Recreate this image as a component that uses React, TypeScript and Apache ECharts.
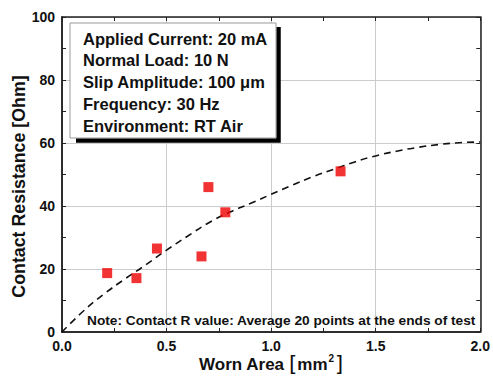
import React, { useEffect, useRef } from "react";
import * as echarts from "echarts";

const curveX = [0, 0.1, 0.2, 0.3, 0.4, 0.5, 0.6, 0.7, 0.8, 0.9, 1.0, 1.1, 1.2, 1.3, 1.4, 1.5, 1.6, 1.7, 1.8, 1.9, 2.0];
const curveY = [0, 6.5, 12, 16.8, 21.3, 26, 30.4, 34.6, 38, 40.8, 43.7, 46.6, 49.3, 51.7, 54, 55.9, 57.4, 58.6, 59.5, 60.1, 60.3];
const pointsX = [0.216, 0.356, 0.454, 0.667, 0.7, 0.781, 1.332];
const pointsY = [18.7, 17.1, 26.5, 24.0, 46.0, 38.0, 51.0];
const xRange = [0, 2];
const yRange = [0, 100];
const xMajor = 0.5;
const xMinor = 0.25;
const yMajor = 20;
const yMinor = 10;
const infoLines = [
  "Applied Current: 20 mA",
  "Normal Load: 10 N",
  "Slip Amplitude: 100 μm",
  "Frequency: 30 Hz",
  "Environment: RT Air",
];
const noteText = "Note: Contact R value: Average 20 points at the ends of test";
const yName = "Contact Resistance [Ohm]";

const FONT = "'Liberation Sans', Arial, sans-serif";

export default function App() {
  const ref = useRef<HTMLDivElement>(null);
  useEffect(() => {
    if (!ref.current) return;
    const chart = echarts.init(ref.current, undefined, { renderer: "svg" });
    const axisLine = { show: true, onZero: false, lineStyle: { color: "#222", width: 1.5 } };
    const tick = { show: true, inside: true, length: 4, lineStyle: { color: "#222", width: 1 } };
    const labelStyle = { fontFamily: FONT, fontWeight: "bold" as const, fontSize: 14, color: "#111" };
    const tickAxis = (position: string, min: number, max: number, interval: number) => ({
      type: "value", position, offset: 0, min, max, interval,
      axisLine, axisTick: tick, axisLabel: { show: false }, splitLine: { show: false },
    });
    chart.setOption({
      animation: false,
      backgroundColor: "#fff",
      grid: { left: 62, right: 11, top: 17, bottom: 48, containLabel: false },
      xAxis: [
        {
          type: "value", position: "bottom", min: xRange[0], max: xRange[1], interval: xMajor,
          axisLine, axisTick: { show: false },
          axisLabel: { ...labelStyle, margin: 7, formatter: (v: number) => v.toFixed(1) },
          splitLine: { show: true, lineStyle: { color: "#cccccc", width: 1 } },
        },
        tickAxis("bottom", xRange[0], xRange[1], xMinor),
        tickAxis("top", xRange[0], xRange[1], xMinor),
      ],
      yAxis: [
        {
          type: "value", position: "left", min: yRange[0], max: yRange[1], interval: yMajor,
          axisLine, axisTick: { show: false },
          axisLabel: { ...labelStyle, margin: 7 },
          splitLine: { show: true, lineStyle: { color: "#cccccc", width: 1 } },
        },
        tickAxis("left", yRange[0], yRange[1], yMinor),
        tickAxis("right", yRange[0], yRange[1], yMinor),
      ],
      series: [
        {
          type: "line",
          xAxisIndex: 0, yAxisIndex: 0,
          data: curveX.map((x, i) => [x, curveY[i]]),
          smooth: true,
          showSymbol: false,
          lineStyle: { color: "#111", width: 1.6, type: [7, 5] },
          z: 3,
        },
        {
          type: "scatter",
          xAxisIndex: 0, yAxisIndex: 0,
          data: pointsX.map((x, i) => [x, pointsY[i]]),
          symbol: "rect",
          symbolSize: 10,
          itemStyle: { color: "#ee0000" },
          z: 4,
        },
      ],
      graphic: {
        elements: [
          {
            type: "polyline", id: "shadow", z: 100,
            shape: { points: [[76, 140.5], [278.5, 140.5], [278.5, 27]] },
            style: { stroke: "#000", lineWidth: 4.5, fill: null },
          },
          {
            type: "rect", id: "box", z: 101,
            shape: { x: 70, y: 23, width: 206, height: 115 },
            style: { fill: "#fff", stroke: "#999", lineWidth: 1 },
          },
          ...infoLines.map((t, i) => ({
            type: "text", id: "info" + i, z: 102, x: 83, y: 38.5 + i * 21.75,
            style: { text: t, font: `bold 16.5px ${FONT}`, fill: "#111", textVerticalAlign: "middle", textAlign: "left" },
          })),
          {
            type: "text", id: "note", z: 102, x: 87, y: 320,
            style: { text: noteText, font: `bold 13.7px ${FONT}`, fill: "#111", textVerticalAlign: "middle", textAlign: "left" },
          },
          {
            type: "text", id: "yname", z: 102, x: 19, y: 186.5, rotation: Math.PI / 2,
            style: { text: yName, font: `bold 17.8px ${FONT}`, fill: "#111", textVerticalAlign: "middle", textAlign: "center" },
          },
          {
            type: "text", id: "xname", z: 102, x: 271, y: 364,
            style: {
              text: "{b|Worn Area }{br|[}{b|mm}{s|2}{br|]}",
              textAlign: "center",
              textVerticalAlign: "middle",
              rich: {
                b: { fontFamily: FONT, fontWeight: "bold", fontSize: 17, fill: "#111", color: "#111" },
                br: { fontFamily: "'DejaVu Sans', sans-serif", fontWeight: "normal", fontSize: 21, color: "#111", fill: "#111" },
                s: { fontFamily: FONT, fontWeight: "bold", fontSize: 10, color: "#111", fill: "#111", verticalAlign: "top", padding: [0, 1, 0, 1] },
              },
            },
          },
        ],
      },
    });
    return () => chart.dispose();
  }, []);
  return <div ref={ref} style={{ position: "fixed", left: 0, top: 0, width: 493, height: 380 }} />;
}
